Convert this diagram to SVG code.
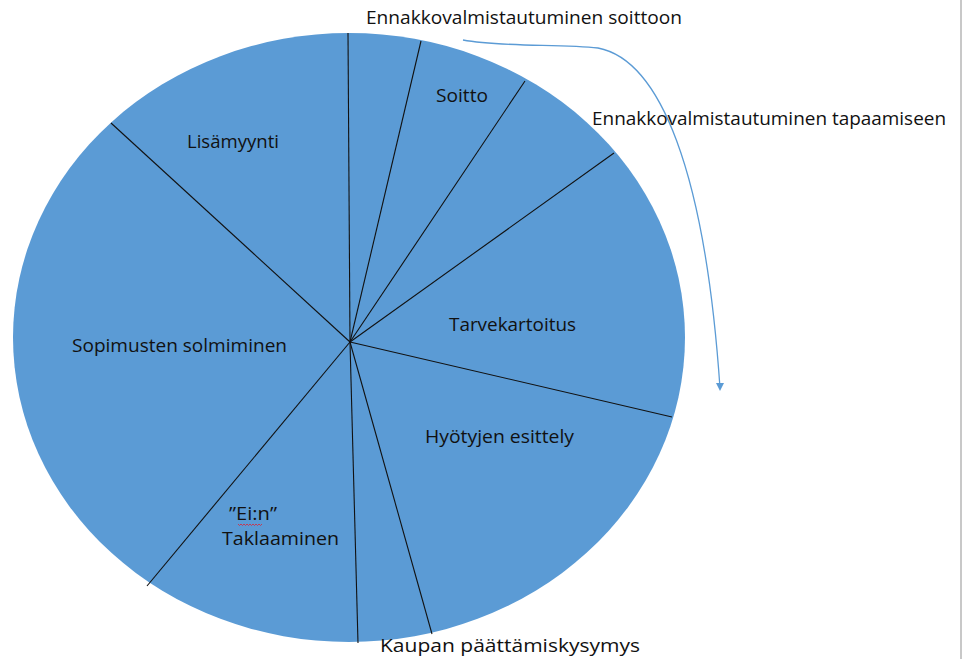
<svg xmlns="http://www.w3.org/2000/svg" width="963" height="659" viewBox="0 0 963 659">
<style>
text{font-family:"Open Sans","Liberation Sans",sans-serif;font-size:18px;fill:#111}
.div{stroke:#111;stroke-width:1.1;fill:none}
</style>
<rect width="963" height="659" fill="#fff"/>
<line x1="961" y1="0" x2="961" y2="659" stroke="#c8c8c8" stroke-width="2"/>
<g id="pie">
<ellipse cx="349" cy="337.5" rx="336" ry="304.5" fill="#5b9bd5"/>
</g>
<g id="connectors">
<line class="div" x1="350" y1="342" x2="348" y2="33"/>
<line class="div" x1="350" y1="342" x2="421" y2="41"/>
<line class="div" x1="350" y1="342" x2="525" y2="81"/>
<line class="div" x1="350" y1="342" x2="614" y2="153"/>
<line class="div" x1="350" y1="342" x2="672" y2="417"/>
<line class="div" x1="350" y1="342" x2="432" y2="634"/>
<line class="div" x1="350" y1="342" x2="358" y2="643"/>
<line class="div" x1="350" y1="342" x2="147" y2="586"/>
<line class="div" x1="350" y1="342" x2="111" y2="123"/>
<path d="M463,40 C500,47 560,44 598,48 C660,60 705,170 720,388" fill="none" stroke="#5b9bd5" stroke-width="1.3"/>
<path d="M716,383 L724,383 L720,391 Z" fill="#5b9bd5"/>
</g>
<g id="labels">
<text x="366" y="24" textLength="316" lengthAdjust="spacingAndGlyphs">Ennakkovalmistautuminen soittoon</text>
<text x="436" y="102" textLength="52" lengthAdjust="spacingAndGlyphs">Soitto</text>
<text x="592" y="125" textLength="354" lengthAdjust="spacingAndGlyphs">Ennakkovalmistautuminen tapaamiseen</text>
<text x="187" y="148" textLength="92" lengthAdjust="spacingAndGlyphs">Lisämyynti</text>
<text x="449" y="331" textLength="127" lengthAdjust="spacingAndGlyphs">Tarvekartoitus</text>
<text x="72" y="352" textLength="215" lengthAdjust="spacingAndGlyphs">Sopimusten solmiminen</text>
<text x="425" y="443" textLength="149" lengthAdjust="spacingAndGlyphs">Hyötyjen esittely</text>
<text x="229" y="520" textLength="48" lengthAdjust="spacingAndGlyphs">”Ei:n”</text>
<path d="M238,524 l1.5,1.5 l1.5,-1.5 l1.5,1.5 l1.5,-1.5 l1.5,1.5 l1.5,-1.5 l1.5,1.5 l1.5,-1.5 l1.5,1.5 l1.5,-1.5 l1.5,1.5 l1.5,-1.5 l1.5,1.5 l1.5,-1.5 l1.5,1.5 l1.5,-1.5" fill="none" stroke="#d23" stroke-width="0.8"/>
<text x="222" y="545" textLength="117" lengthAdjust="spacingAndGlyphs">Taklaaminen</text>
<text x="380" y="652" textLength="260" lengthAdjust="spacingAndGlyphs">Kaupan päättämiskysymys</text>
</g>
</svg>
